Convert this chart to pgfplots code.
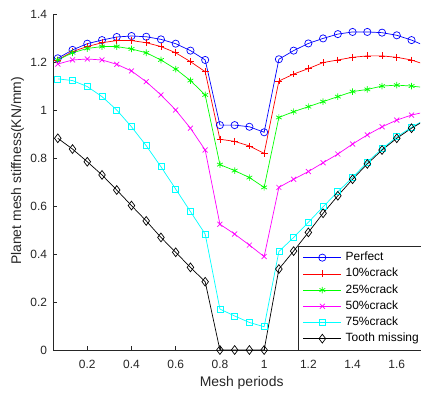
\documentclass[border=0pt]{standalone}
\usepackage{fontspec}
\setmainfont{Liberation Sans}
\usepackage{pgfplots}
\usepackage{pgfplotstable}
\pgfplotsset{compat=1.18}
\definecolor{axgray}{rgb}{0.15,0.15,0.15}
\definecolor{mblue}{rgb}{0,0,1}
\definecolor{mred}{rgb}{1,0,0}
\definecolor{mgreen}{rgb}{0,1,0}
\definecolor{mmagenta}{rgb}{1,0,1}
\definecolor{mcyan}{rgb}{0,1,1}

\pgfplotstableread{
x p c10 c25 c50 c75 tm
0.06667 1.218 1.211 1.211 1.194 1.132 0.884
0.13333 1.253 1.246 1.241 1.211 1.125 0.839
0.20000 1.279 1.267 1.259 1.215 1.100 0.786
0.26667 1.294 1.283 1.267 1.211 1.058 0.731
0.33333 1.307 1.292 1.267 1.193 1.002 0.668
0.40000 1.311 1.292 1.257 1.165 0.932 0.603
0.46667 1.308 1.283 1.241 1.120 0.853 0.539
0.53333 1.297 1.267 1.211 1.065 0.765 0.470
0.60000 1.279 1.241 1.173 1.002 0.672 0.408
0.66667 1.250 1.204 1.125 0.926 0.578 0.345
0.73333 1.211 1.162 1.065 0.835 0.484 0.285
0.80000 0.939 0.880 0.774 0.525 0.171 0
0.86667 0.939 0.871 0.749 0.484 0.142 0
0.93333 0.932 0.852 0.720 0.438 0.115 0
1.00000 0.909 0.821 0.679 0.390 0.097 0
1.06667 1.214 1.123 0.971 0.679 0.411 0.338
1.13333 1.250 1.152 0.995 0.713 0.470 0.413
1.20000 1.280 1.175 1.016 0.745 0.533 0.491
1.26667 1.301 1.200 1.037 0.782 0.598 0.571
1.33333 1.319 1.211 1.058 0.818 0.661 0.644
1.40000 1.328 1.222 1.079 0.860 0.720 0.713
1.46667 1.328 1.228 1.088 0.898 0.785 0.777
1.53333 1.325 1.228 1.102 0.932 0.840 0.835
1.60000 1.314 1.222 1.106 0.960 0.890 0.884
1.66667 1.294 1.211 1.102 0.981 0.930 0.926
1.73333 1.268 1.190 1.095 0.995 0.965 0.962
}\datatable

\begin{document}
\begin{tikzpicture}
\begin{axis}[
  at={(0,0)}, anchor=south west,
  scale only axis, width=367bp, height=335.3bp,
  xmin=0.045, xmax=1.705, ymin=0, ymax=1.4,
  axis x line=bottom, axis y line=left,
  axis line style={-, axgray, line width=0.5bp},
  tick align=inside, major tick length=4bp,
  tick style={axgray, line width=0.5bp},
  xtick={0.2,0.4,0.6,0.8,1,1.2,1.4,1.6},
  ytick={0,0.2,0.4,0.6,0.8,1,1.2,1.4},
  /pgf/number format/assume math mode=true,
  ticklabel style={font=\fontsize{12}{14}\selectfont, text=axgray},
  xticklabel style={yshift=-7bp},
  yticklabel style={xshift=-2.5bp},
  xlabel={Mesh periods},
  ylabel={Planet mesh stiffness(KN/mm)},
  label style={font=\fontsize{14}{16}\selectfont, text=axgray},
  xlabel style={at={(rel axis cs:0.514,-0.097)}, anchor=center},
  ylabel style={at={(rel axis cs:-0.0967,0.534)}, anchor=center},
  legend cell align=left,
  legend style={at={(rel axis cs:0.6668,0)}, anchor=south west,
    draw=axgray, line width=0.5bp, fill=white,
    font=\fontsize{12}{14}\selectfont,
    inner xsep=5bp, inner ysep=3bp, row sep=0pt,
    /tikz/column sep=0pt,
    nodes={inner xsep=4bp, inner ysep=2.1bp, text height=9bp, text depth=3bp}},
  legend image code/.code={\draw[mark repeat=2,mark phase=2] plot coordinates {(0bp,0bp) (19bp,0bp) (38bp,0bp)};},
  every axis plot/.append style={line width=0.7bp},
]
\addplot[color=mblue, mark=o, mark size=3.6bp] table[x=x,y=p] {\datatable};
\addlegendentry{Perfect}
\addplot[color=mred, mark=+, mark size=3.4bp] table[x=x,y=c10] {\datatable};
\addlegendentry{10\%crack}
\addplot[color=mgreen, mark=asterisk, mark size=3.3bp] table[x=x,y=c25] {\datatable};
\addlegendentry{25\%crack}
\addplot[color=mmagenta, mark=x, mark size=3.5bp] table[x=x,y=c50] {\datatable};
\addlegendentry{50\%crack}
\addplot[color=mcyan, mark=square, mark size=3bp] table[x=x,y=c75] {\datatable};
\addlegendentry{75\%crack}
\addplot[color=black, mark=diamond, mark size=4.4bp] table[x=x,y=tm] {\datatable};
\addlegendentry{Tooth missing}
\end{axis}
\pgfresetboundingbox
\path[use as bounding box] (-53bp,-43bp) rectangle (368bp,350bp);
\end{tikzpicture}
\end{document}
